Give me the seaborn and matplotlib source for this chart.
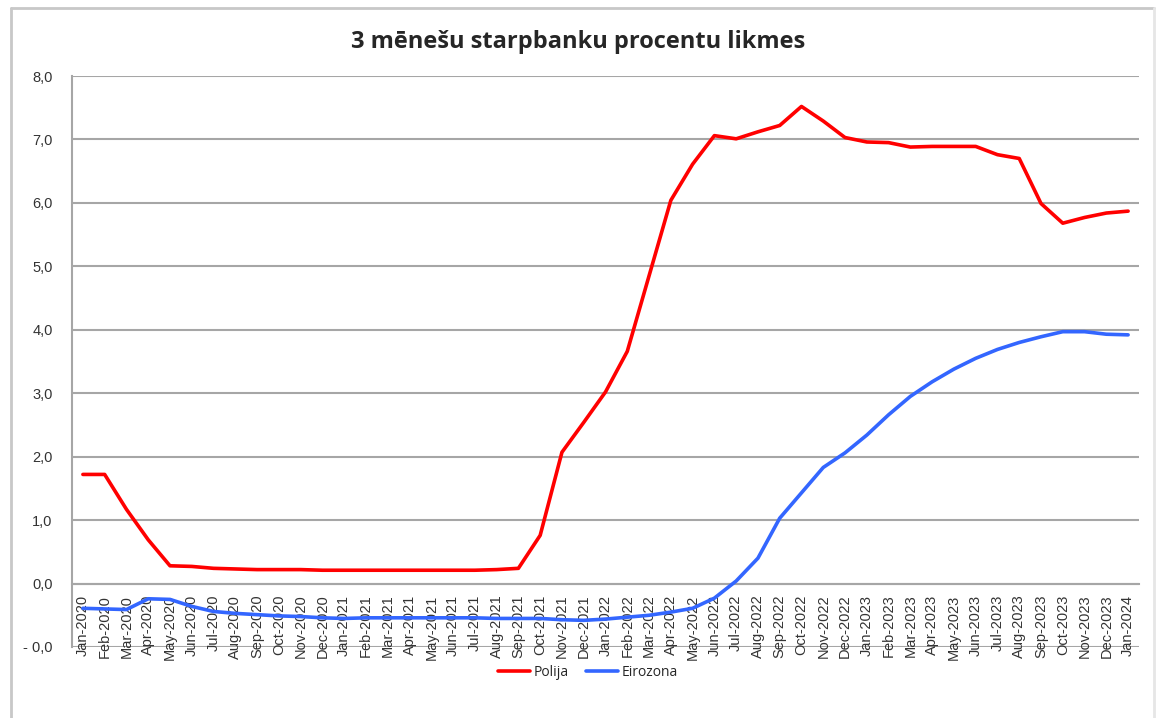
import pandas as pd
import seaborn as sns
import matplotlib.pyplot as plt
from matplotlib.lines import Line2D

sns.set_style("white")
plt.rcParams["font.family"] = ["Liberation Sans", "DejaVu Sans"]

# data (monthly, Jan-2020 .. Jan-2024)
month_names = ["Jan", "Feb", "Mar", "Apr", "May", "Jun",
               "Jul", "Aug", "Sep", "Oct", "Nov", "Dec"]
years = [2020, 2021, 2022, 2023, 2024]
months = [f"{m}-{y}" for y in years for m in month_names][:49]

polija = [
    1.72, 1.72, 1.17, 0.69, 0.28, 0.27, 0.24, 0.23, 0.22, 0.22, 0.22, 0.21,
    0.21, 0.21, 0.21, 0.21, 0.21, 0.21, 0.21, 0.22, 0.24, 0.76, 2.07, 2.54,
    3.02, 3.66, 4.85, 6.04, 6.61, 7.06, 7.01, 7.12, 7.22, 7.52, 7.29, 7.03,
    6.96, 6.95, 6.88, 6.89, 6.89, 6.89, 6.76, 6.70, 5.99, 5.68, 5.77, 5.84,
    5.87,
]
eirozona = [
    -0.39, -0.40, -0.41, -0.24, -0.25, -0.36, -0.44, -0.47, -0.49, -0.51, -0.52, -0.54,
    -0.55, -0.54, -0.54, -0.54, -0.54, -0.54, -0.54, -0.55, -0.55, -0.55, -0.57, -0.58,
    -0.56, -0.53, -0.50, -0.45, -0.39, -0.23, 0.04, 0.40, 1.03, 1.43, 1.83, 2.06,
    2.34, 2.66, 2.95, 3.18, 3.38, 3.55, 3.69, 3.80, 3.89, 3.97, 3.97, 3.93,
    3.92,
]
y_ticks = [-1, 0, 1, 2, 3, 4, 5, 6, 7, 8]
y_labels = ["- 0,0", "0,0", "1,0", "2,0", "3,0", "4,0", "5,0", "6,0", "7,0", "8,0"]

df = pd.DataFrame({
    "idx": list(range(len(months))) * 2,
    "Rate": polija + eirozona,
    "Series": ["Polija"] * len(polija) + ["Eirozona"] * len(eirozona),
})

fig = plt.figure(figsize=(11.56, 7.18), dpi=100)
ax = fig.add_axes([72 / 1156, 1 - 647 / 718, (1139 - 72) / 1156, (647 - 76) / 718])

grid_c = "#a6a6a6"
for yv in y_ticks:
    ax.axhline(yv, color=grid_c, lw=1.5, zorder=0)

sns.lineplot(
    data=df, x="idx", y="Rate", hue="Series",
    palette={"Polija": "#ff0000", "Eirozona": "#3366ff"},
    linewidth=2.6, ax=ax, legend=False, zorder=3,
)

ax.set_xlim(-0.5, len(months) - 0.5)
ax.set_ylim(-1, 8)
ax.set_xlabel("")
ax.set_ylabel("")

ax.spines["top"].set_visible(False)
ax.spines["right"].set_visible(False)
ax.spines["bottom"].set_position(("data", 0))
ax.spines["bottom"].set_color(grid_c)
ax.spines["bottom"].set_linewidth(1.5)
ax.spines["left"].set_color(grid_c)
ax.spines["left"].set_linewidth(1.5)

ax.set_yticks(y_ticks)
ax.set_yticklabels(y_labels)
ax.tick_params(axis="y", length=5, width=1.5, color=grid_c, pad=9,
               labelsize=10.5, labelcolor="#333333")

ax.set_xticks(range(len(months)))
ax.set_xticklabels(months, rotation=90)
ax.set_xticks([i - 0.5 for i in range(len(months) + 1)], minor=True)
ax.tick_params(axis="x", which="major", length=0, pad=8,
               labelsize=10.5, labelcolor="#333333")
ax.tick_params(axis="x", which="minor", length=5, width=1.5, color=grid_c,
               direction="out")
for lab in ax.get_xticklabels():
    lab.set_verticalalignment("top")

fig.text(0.5, 1 - 42 / 718, "3 mēnešu starpbanku procentu likmes",
         ha="center", va="center", fontsize=17, fontweight="bold",
         family=["Open Sans", "DejaVu Sans"])

handles = [Line2D([], [], color="#ff0000", lw=2.6),
           Line2D([], [], color="#3366ff", lw=2.6)]
fig.legend(handles, ["Polija", "Eirozona"], loc="center",
           bbox_to_anchor=(588 / 1156, 1 - 672 / 718), ncol=2, frameon=False,
           handlelength=2.3, handletextpad=0.3, columnspacing=1.2,
           prop={"family": ["Open Sans", "DejaVu Sans"], "size": 10})

# light frame around the chart area
frame_c = "#c8c8c8"
fig.add_artist(Line2D([11 / 1156, 11 / 1156], [0, 1 - 8 / 718], color=frame_c, lw=2))
fig.add_artist(Line2D([11 / 1156, 1154 / 1156], [1 - 8 / 718, 1 - 8 / 718], color=frame_c, lw=2))
fig.add_artist(Line2D([1154 / 1156, 1154 / 1156], [0, 1 - 8 / 718], color="#e6e6e6", lw=2))

fig.savefig("out.png", dpi=100)
